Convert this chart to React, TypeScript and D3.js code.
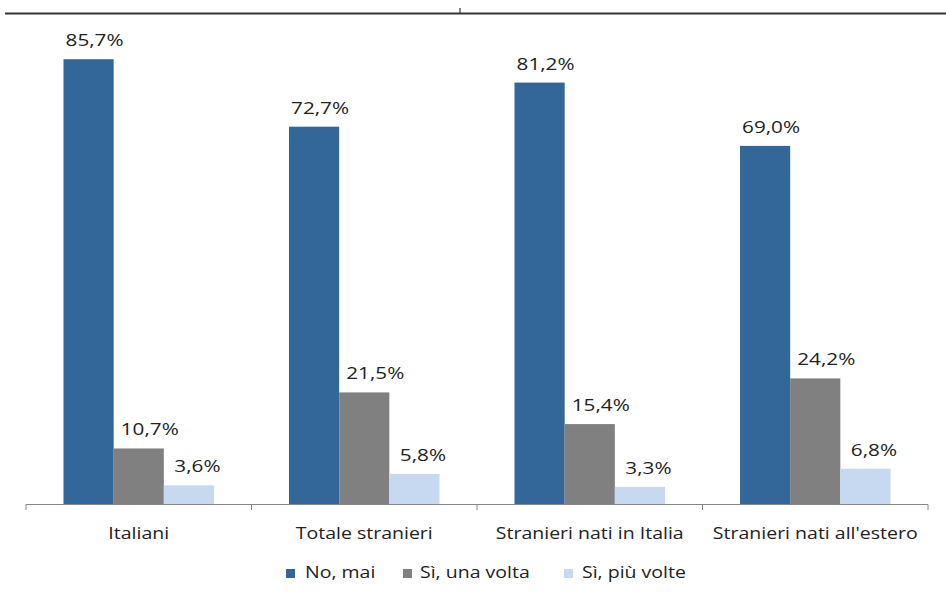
import React from "react";
import * as d3 from "d3";

const categories = ["Italiani", "Totale stranieri", "Stranieri nati in Italia", "Stranieri nati all'estero"];
const seriesNames = ["No, mai", "Sì, una volta", "Sì, più volte"];
const noMai = [85.7, 72.7, 81.2, 69.0];
const siUnaVolta = [10.7, 21.5, 15.4, 24.2];
const siPiuVolte = [3.6, 5.8, 3.3, 6.8];
const seriesValues = [noMai, siUnaVolta, siPiuVolte];
const colors = ["#336699", "#808080", "#C6D9F1"];

const W = 946;
const H = 594;
const FONT = "'Open Sans', sans-serif";
const SX = 1.22;
const TEXT = "#222222";

const fmt = (v: number) => v.toFixed(1).replace(".", ",") + "%";

function SText({ x, y, children, size = 16, anchor = "middle" }: any) {
  return (
    <text
      transform={`translate(${x},${y}) scale(${SX},1)`}
      textAnchor={anchor}
      fontFamily={FONT}
      fontSize={size}
      fill={TEXT}
    >
      {children}
    </text>
  );
}

export default function App() {
  const x0 = d3.scaleBand<string>().domain(categories).range([26, 928]).paddingInner(0).paddingOuter(0);
  const bw = x0.bandwidth();
  const x1 = d3.scaleBand<string>().domain(seriesNames).range([37.5, bw - 37.5]).padding(0);
  const y = d3.scaleLinear().domain([0, 100]).range([504, -15]);
  const labelDx = [6, 11, 8.5];

  const boundaries = categories.map((c) => x0(c)!).concat([x0(categories[categories.length - 1])! + bw]);

  const legendItems = [
    { sq: 286, tx: 305 },
    { sq: 403, tx: 420 },
    { sq: 564, tx: 582 },
  ];

  return (
    <svg
      width={W}
      height={H}
      style={{ position: "absolute", left: 0, top: 0, background: "#fff" }}
    >
      <rect width={W} height={H} fill="#fff" />
      {/* top border line */}
      <line x1={5} x2={W} y1={13.5} y2={13.5} stroke="#333" strokeWidth={1.8} />
      <line x1={460} x2={460} y1={8} y2={13} stroke="#333" strokeWidth={1.2} />

      {/* bars */}
      {categories.map((c, ci) => (
        <g key={c} transform={`translate(${x0(c)},0)`}>
          {seriesNames.map((s, si) => {
            const v = seriesValues[si][ci];
            return (
              <rect
                key={s}
                x={x1(s)!}
                y={y(v)}
                width={x1.bandwidth()}
                height={y(0) - y(v)}
                fill={colors[si]}
              />
            );
          })}
        </g>
      ))}

      {/* value labels */}
      {categories.map((c, ci) =>
        seriesNames.map((s, si) => {
          const v = seriesValues[si][ci];
          const cx = x0(c)! + x1(s)! + x1.bandwidth() / 2 + labelDx[si];
          return (
            <SText key={c + s} x={cx} y={y(v) - 13} size={17}>
              {fmt(v)}
            </SText>
          );
        })
      )}

      {/* axis */}
      <line x1={26} x2={928} y1={504.5} y2={504.5} stroke="#868686" strokeWidth={1} />
      {boundaries.map((b, i) => (
        <line key={i} x1={b} x2={b} y1={504.5} y2={510} stroke="#868686" strokeWidth={1} />
      ))}
      {categories.map((c) => (
        <SText key={c} x={x0(c)! + bw / 2} y={539}>
          {c}
        </SText>
      ))}

      {/* legend */}
      {seriesNames.map((s, i) => (
        <g key={s}>
          <rect x={legendItems[i].sq} y={569} width={9} height={9} fill={colors[i]} />
          <SText x={legendItems[i].tx} y={578} anchor="start">
            {s}
          </SText>
        </g>
      ))}
    </svg>
  );
}
